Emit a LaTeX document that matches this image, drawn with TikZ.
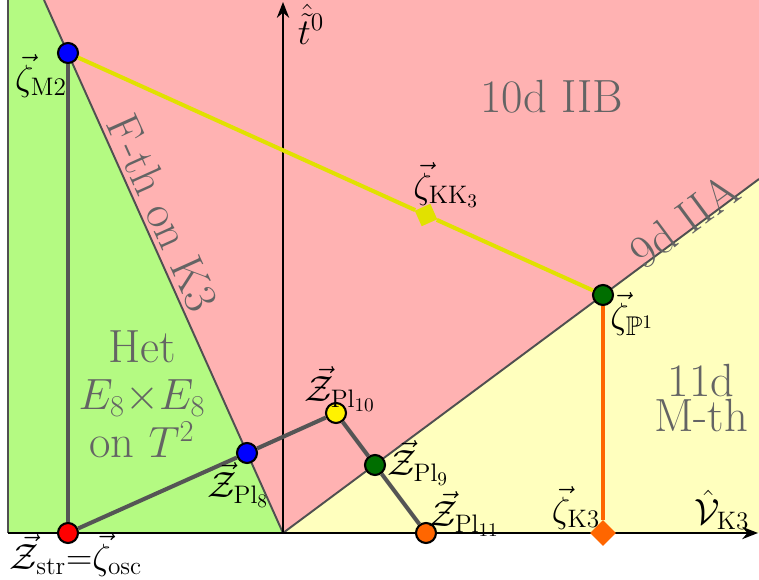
\documentclass[tikz,border=0pt]{standalone}
\usepackage{amsmath}
\usepackage{amssymb}
\usepackage{xcolor}
\usepackage{tikz}
\usetikzlibrary{arrows.meta, positioning, shapes.geometric, calc}
\definecolor{hetgreen}{RGB}{180,250,130}
\definecolor{iibpink}{RGB}{255,178,178}
\definecolor{mthyellow}{RGB}{255,255,190}
\definecolor{pathgray}{RGB}{85,85,85}
\definecolor{edgegray}{RGB}{80,80,80}
\definecolor{regiongray}{RGB}{100,100,100}
\definecolor{kkyellow}{RGB}{225,225,0}
\definecolor{ptorange}{RGB}{255,102,0}
\definecolor{ptgreen}{RGB}{0,110,0}

\begin{document}
\begin{tikzpicture}[
    x=0.02cm, y=-0.02cm,
    pt/.style={circle, draw=black, line width=1.2pt, minimum size=0.4cm, inner sep=0pt},
    lbl/.style={font=\fontsize{22}{24}\selectfont, inner sep=0pt},
    region/.style={text=regiongray, font=\fontsize{26.5}{27}\selectfont, align=center},
    bdry/.style={draw=edgegray, line width=1.1pt},
    axis/.style={line width=1.1pt, -{Stealth[length=9pt, width=7pt]}},
    path/.style={draw=pathgray, line width=2.3pt}
]
\useasboundingbox (0,0) rectangle (759,580);
\coordinate (O) at (283,533);
\coordinate (ftop) at (44,0);
\coordinate (iia) at (759,179);

% regions
\fill[hetgreen] (8,0) -- (ftop) -- (O) -- (8,533) -- cycle;
\fill[iibpink] (ftop) -- (759,0) -- (iia) -- (O) -- cycle;
\fill[mthyellow] (O) -- (iia) -- (759,533) -- cycle;
\draw[bdry] (O) -- (ftop);
\draw[bdry] (O) -- (iia);
\draw[draw=edgegray, line width=0.6pt] (8,0) -- (8,533);

% axes
\coordinate (xstart) at (8,533);
\coordinate (xend) at (758,533);
\coordinate (yend) at (283,2);
\draw[axis] (xstart) -- (xend);
\draw[axis] (O) -- (yend);

% region names
\node[region] (iib) at (552,97) {10d IIB};
\node[region, rotate=36.6] (iianame) at (684,221) {9d IIA};
\node[region, rotate=-65.8] (fth) at (163,213) {F-th on K3};
\node[region] (het) at (142,394) {Het\\$E_8{\times}E_8$\\on $T^2$};
\node[region, font=\fontsize{26.5}{20}\selectfont] (mth) at (701,398) {11d\\M-th};

% points
\node[pt, fill=blue] (m2) at (68,53) {};
\node[pt, fill=red] (str) at (68,533) {};
\node[pt, fill=blue] (pl8) at (247,453) {};
\node[pt, fill=yellow] (pl10) at (336,413) {};
\node[pt, fill=ptgreen] (pl9) at (375,465) {};
\node[pt, fill=ptorange] (pl11) at (426,533) {};
\node[pt, fill=ptgreen] (p1) at (603,295) {};
\node[rectangle, fill=kkyellow, minimum size=0.34cm, inner sep=0pt, rotate=24] (kk3) at (426,215) {};
\node[diamond, fill=ptorange, minimum size=0.52cm, inner sep=0pt] (k3) at (603,533) {};

\draw[path] (m2) -- (str);
\draw[path] (str) -- (pl8);
\draw[path] (pl8) -- (pl10);
\draw[path] (pl10) -- (pl9);
\draw[path] (pl9) -- (pl11);
\draw[draw=kkyellow, line width=2.3pt] (m2) -- (kk3);
\draw[draw=kkyellow, line width=2.3pt] (kk3) -- (p1);
\draw[draw=ptorange, line width=2.3pt] (p1) -- (k3);

% labels
\node[lbl] (lm2) at (41,76) {$\vec\zeta_{\mathrm{M2}}$};
\node[lbl] (lstr) at (76,555) {$\vec{\mathcal Z}_{\mathrm{str}}{=}\vec\zeta_{\mathrm{osc}}$};
\node[lbl] (lpl8) at (238,485) {$\vec{\mathcal Z}_{\mathrm{Pl}_8}$};
\node[lbl] (lpl10) at (340,389) {$\vec{\mathcal Z}_{\mathrm{Pl}_{10}}$};
\node[lbl] (lpl9) at (418,463) {$\vec{\mathcal Z}_{\mathrm{Pl}_9}$};
\node[lbl] (lpl11) at (464,514) {$\vec{\mathcal Z}_{\mathrm{Pl}_{11}}$};
\node[lbl] (lkk3) at (446,185) {$\vec\zeta_{\mathrm{KK}_3}$};
\node[lbl] (lp1) at (632,314) {$\vec\zeta_{\mathbb P^1}$};
\node[lbl] (lk3) at (576,508) {$\vec\zeta_{\mathrm{K3}}$};
\node[lbl] (lv) at (722,510) {$\hat{\mathcal V}_{\mathrm{K3}}$};
\node[lbl] (lt) at (311,24) {$\hat{\tilde t}^0$};
\end{tikzpicture}
\end{document}
